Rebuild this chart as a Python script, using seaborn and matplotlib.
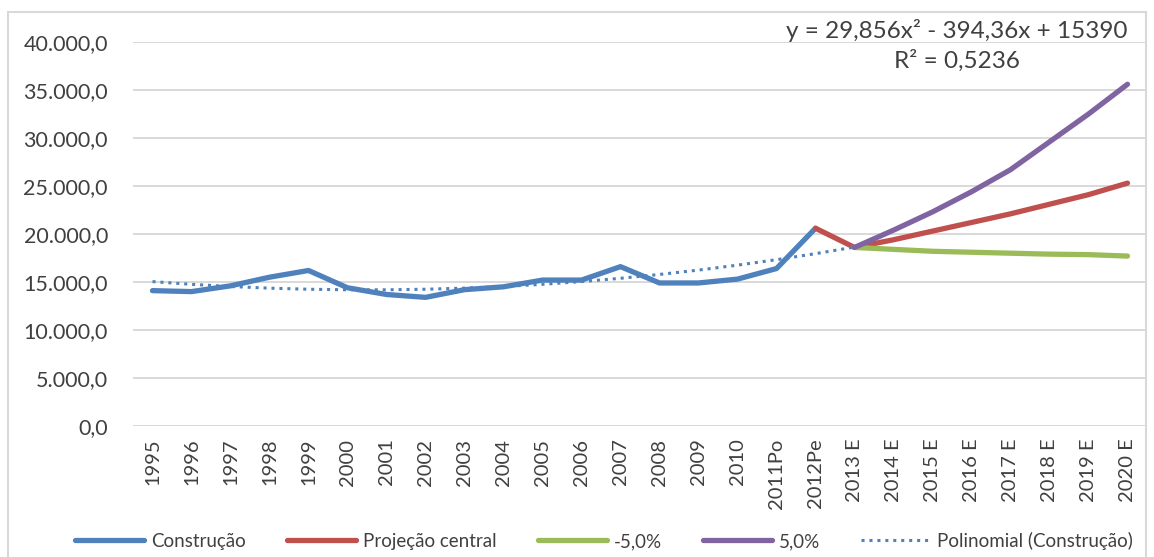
import numpy as np
import pandas as pd
import matplotlib
matplotlib.use("Agg")
import matplotlib.pyplot as plt
import seaborn as sns
from matplotlib.ticker import FuncFormatter
from matplotlib.patches import Rectangle

# categories and series
categories = ['1995', '1996', '1997', '1998', '1999', '2000', '2001', '2002', '2003',
              '2004', '2005', '2006', '2007', '2008', '2009', '2010', '2011Po', '2012Pe',
              '2013 E', '2014 E', '2015 E', '2016 E', '2017 E', '2018 E', '2019 E', '2020 E']

construcao = [14100, 14000, 14600, 15500, 16200, 14400, 13700, 13400, 14200,
              14500, 15200, 15200, 16600, 14900, 14900, 15300, 16400, 20600]
# from 2012Pe to 2020 E
projecao_central = [20600, 18600, 19400, 20300, 21200, 22100, 23100, 24100, 25300]
# from 2013 E to 2020 E
menos_5 = [18600, 18400, 18200, 18100, 18000, 17900, 17850, 17700]
mais_5 = [18600, 20400, 22300, 24400, 26700, 29600, 32500, 35600]

eq_text = "y = 29,856x² - 394,36x + 15390"
r2_text = "R² = 0,5236"

c_blue = '#4F81BD'
c_red = '#C0504D'
c_green = '#9BBB59'
c_purple = '#8064A2'

sns.set_style("white")
plt.rcParams['font.family'] = ['Lato', 'DejaVu Sans']

fig = plt.figure(figsize=(11.54, 5.57), dpi=100)
ax = fig.add_axes([133 / 1154, 1 - 426 / 557, (1147 - 133) / 1154, (426 - 42) / 557])

pos = np.arange(len(categories))
n_hist = len(construcao)

sns.lineplot(x=pos[:n_hist], y=construcao, ax=ax, color=c_blue, lw=3.8, label='Construção')
sns.lineplot(x=pos[n_hist - 1:], y=projecao_central, ax=ax, color=c_red, lw=3.8, label='Projeção central')
sns.lineplot(x=pos[n_hist:], y=menos_5, ax=ax, color=c_green, lw=3.8, label='-5,0%')
sns.lineplot(x=pos[n_hist:], y=mais_5, ax=ax, color=c_purple, lw=3.8, label='5,0%')

# polynomial trendline (order 2) fitted on Construção, one period forward
xs = np.arange(1, n_hist + 1)
coef = np.polyfit(xs, construcao, 2)
xt = np.arange(1, n_hist + 2)
trend = np.polyval(coef, xt)
ax.plot(pos[:n_hist + 1], trend, color=c_blue, lw=2.2, linestyle=(0, (1, 1.6)),
        label='Polinomial (Construção)', zorder=5)

ax.set_xlim(-0.5, len(categories) - 0.5)
ax.set_ylim(0, 40000)
ax.set_yticks(np.arange(0, 40001, 5000))
ax.yaxis.set_major_formatter(FuncFormatter(
    lambda v, p: f"{v:,.1f}".replace(',', 'X').replace('.', ',').replace('X', '.')))
ax.set_xticks(pos)
ax.set_xticklabels(categories, rotation=90)
ax.tick_params(axis='both', length=0, labelsize=14.5, colors='#404040')
ax.tick_params(axis='y', labelsize=15.5, pad=18)
ax.tick_params(axis='x', pad=9)
ax.grid(axis='y', color='#D9D9D9', lw=1.4)
ax.grid(axis='x', visible=False)
for s in ax.spines.values():
    s.set_visible(False)
ax.set_xlabel('')
ax.set_ylabel('')

fig.text(957 / 1154, 1 - 31 / 557, eq_text, ha='center', va='center',
         fontsize=17.5, color='#404040')
fig.text(957 / 1154, 1 - 61 / 557, r2_text, ha='center', va='center',
         fontsize=17.5, color='#404040')

handles, labels = ax.get_legend_handles_labels()
ax.get_legend().remove()
fig.legend(handles, labels, loc='center', bbox_to_anchor=(604 / 1154, 1 - 541 / 557), ncol=5,
           frameon=False, fontsize=13.5, handlelength=3.7, columnspacing=2.2,
           handletextpad=0.35, labelcolor='#404040')

fig.patches.append(Rectangle((8 / 1154, -0.02), (1146 - 8) / 1154, 1.02 - 12 / 557,
                             transform=fig.transFigure, fill=False, edgecolor='#D9D9D9', lw=1.5))

fig.savefig("out.png", dpi=100)
